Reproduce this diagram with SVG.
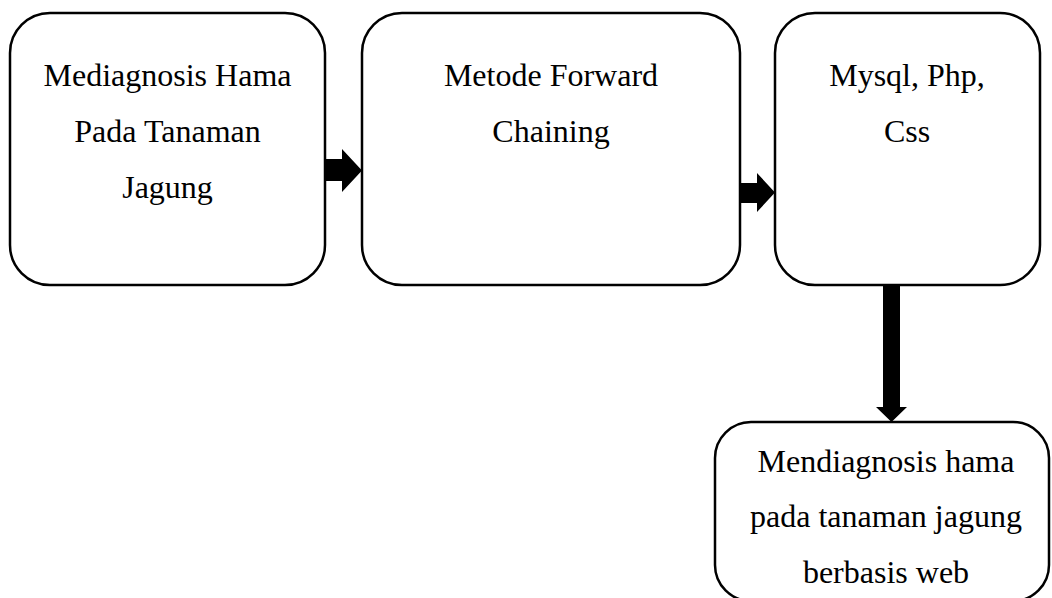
<svg xmlns="http://www.w3.org/2000/svg" width="1052" height="598" viewBox="0 0 1052 598">
  <style>
    .box { fill: #ffffff; stroke: #000000; stroke-width: 2.5; }
    .label { font-family: "Liberation Serif", "Times New Roman", serif; font-size: 32px; fill: #000000; text-anchor: middle; }
    .arrow { fill: #000000; stroke: none; }
  </style>
  <rect width="1052" height="598" fill="#ffffff"/>

  <g id="node-problem">
    <rect class="box" x="10" y="13" width="315" height="272" rx="40" ry="40"/>
    <text class="label" x="167.5" y="86">Mediagnosis Hama</text>
    <text class="label" x="167.5" y="142">Pada Tanaman</text>
    <text class="label" x="167.5" y="198">Jagung</text>
  </g>

  <g id="node-method">
    <rect class="box" x="362" y="13" width="378" height="272" rx="40" ry="40"/>
    <text class="label" x="551" y="86">Metode Forward</text>
    <text class="label" x="551" y="142">Chaining</text>
  </g>

  <g id="node-tools">
    <rect class="box" x="775" y="13" width="265" height="272" rx="40" ry="40"/>
    <text class="label" x="907" y="86">Mysql, Php,</text>
    <text class="label" x="907" y="142">Css</text>
  </g>

  <g id="node-result">
    <rect class="box" x="715" y="422" width="334" height="179" rx="36" ry="36"/>
    <text class="label" x="886" y="472">Mendiagnosis hama</text>
    <text class="label" x="886" y="527">pada tanaman jagung</text>
    <text class="label" x="886" y="583">berbasis web</text>
  </g>

  <g id="connectors">
    <!-- problem -> method -->
    <polygon class="arrow" points="326,159 342,159 342,149 362,170.5 342,192 342,181 326,181"/>
    <!-- method -> tools -->
    <polygon class="arrow" points="741,183 757,183 757,173 775,192.5 757,212 757,203 741,203"/>
    <!-- tools -> result -->
    <polygon class="arrow" points="883,286 900,286 900,407 907,407 891.5,422 876,407 883,407"/>
  </g>
</svg>
